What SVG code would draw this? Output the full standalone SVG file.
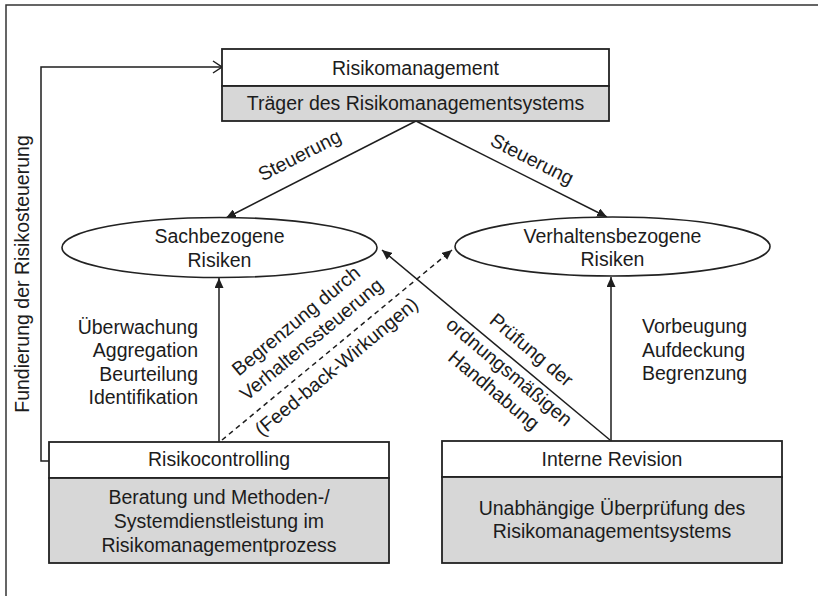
<svg xmlns="http://www.w3.org/2000/svg" width="818" height="596" viewBox="0 0 818 596">
<defs>
<marker id="ah" markerWidth="10" markerHeight="9" refX="10" refY="4.5" orient="auto" markerUnits="userSpaceOnUse"><path d="M0,0 L10,4.5 L0,9 z" fill="#1e1e1e"/></marker>
<marker id="oa" markerWidth="11" markerHeight="14" refX="10" refY="7" orient="auto" markerUnits="userSpaceOnUse"><path d="M1,1 L10,7 L1,13" fill="none" stroke="#1e1e1e" stroke-width="1.5"/></marker>
</defs>
<style>
text{font-family:"Liberation Sans",Arial,Helvetica,sans-serif;font-size:19.5px;fill:#1c1c1c}
.c{text-anchor:middle}
.r{text-anchor:end}
.box{fill:#fff;stroke:#222;stroke-width:1.8}
.gray{fill:#d7d7d7;stroke:#222;stroke-width:1.8}
.ell{fill:#fff;stroke:#222;stroke-width:1.6}
.ln{fill:none;stroke:#1e1e1e;stroke-width:1.5}
.dash{fill:none;stroke:#1e1e1e;stroke-width:1.5;stroke-dasharray:5,4}
</style>
<rect x="0" y="0" width="818" height="596" fill="#fff"/>
<rect x="6" y="5" width="830" height="620" fill="none" stroke="#333" stroke-width="1.5"/>

<g id="connectors">
<path class="ln" d="M49,461 H41 V67 H222" marker-end="url(#oa)"/>
<line class="ln" x1="416" y1="121" x2="226" y2="218" marker-end="url(#ah)"/>
<line class="ln" x1="416" y1="121" x2="607" y2="217" marker-end="url(#ah)"/>
<line class="ln" x1="219" y1="442" x2="219" y2="278" marker-end="url(#ah)"/>
<line class="ln" x1="611" y1="441" x2="611" y2="277" marker-end="url(#ah)"/>
<line class="dash" x1="222" y1="440" x2="452" y2="250" marker-end="url(#ah)"/>
<line class="ln" x1="610" y1="440" x2="382" y2="250" marker-end="url(#ah)"/>
</g>

<g id="labels">
<text class="c" transform="translate(29,274) rotate(-90)">Fundierung der Risikosteuerung</text>
<text class="c" transform="translate(226,218) rotate(-27)" x="94" y="-16">Steuerung</text>
<text class="c" transform="translate(416,121) rotate(26.7)" x="121" y="-11.5">Steuerung</text>
<text class="r" x="198" y="334">Überwachung</text>
<text class="r" x="198" y="357">Aggregation</text>
<text class="r" x="198" y="381">Beurteilung</text>
<text class="r" x="198" y="404">Identifikation</text>
<text x="642" y="333">Vorbeugung</text>
<text x="642" y="357">Aufdeckung</text>
<text x="642" y="380">Begrenzung</text>
<g transform="translate(222,440) rotate(-39.6)">
<text class="c" x="133" y="-38">Begrenzung durch</text>
<text class="c" x="133" y="-14">Verhaltenssteuerung</text>
<text class="c" x="135" y="23">(Feed-back-Wirkungen)</text>
</g>
<g transform="translate(383,250) rotate(39.9)">
<text class="c" x="178" y="-12">Prüfung der</text>
<text class="c" x="175" y="19">ordnungsmäßigen</text>
<text class="c" x="175" y="43">Handhabung</text>
</g>
</g>

<g id="risikomanagement">
<rect class="box" x="222" y="49" width="387" height="37"/>
<rect class="gray" x="222" y="86" width="387" height="35"/>
<text class="c" x="415.5" y="75">Risikomanagement</text>
<text class="c" x="415.5" y="110">Träger des Risikomanagementsystems</text>
</g>

<g id="sachbezogene">
<ellipse class="ell" cx="219.5" cy="247.5" rx="157.5" ry="30"/>
<text class="c" x="219.5" y="243">Sachbezogene</text>
<text class="c" x="219.5" y="267">Risiken</text>
</g>

<g id="verhaltensbezogene">
<ellipse class="ell" cx="612.5" cy="246.5" rx="157.5" ry="29.5"/>
<text class="c" x="612.5" y="243">Verhaltensbezogene</text>
<text class="c" x="612.5" y="266">Risiken</text>
</g>

<g id="risikocontrolling">
<rect class="box" x="49" y="442" width="340" height="36"/>
<rect class="gray" x="49" y="478" width="340" height="85"/>
<text class="c" x="219" y="466">Risikocontrolling</text>
<text class="c" x="219" y="504">Beratung und Methoden-/</text>
<text class="c" x="219" y="528">Systemdienstleistung im</text>
<text class="c" x="219" y="552">Risikomanagementprozess</text>
</g>

<g id="interne-revision">
<rect class="box" x="442" y="441" width="340" height="36"/>
<rect class="gray" x="442" y="477" width="340" height="86"/>
<text class="c" x="612" y="466">Interne Revision</text>
<text class="c" x="612" y="515">Unabhängige Überprüfung des</text>
<text class="c" x="612" y="538">Risikomanagementsystems</text>
</g>
</svg>
